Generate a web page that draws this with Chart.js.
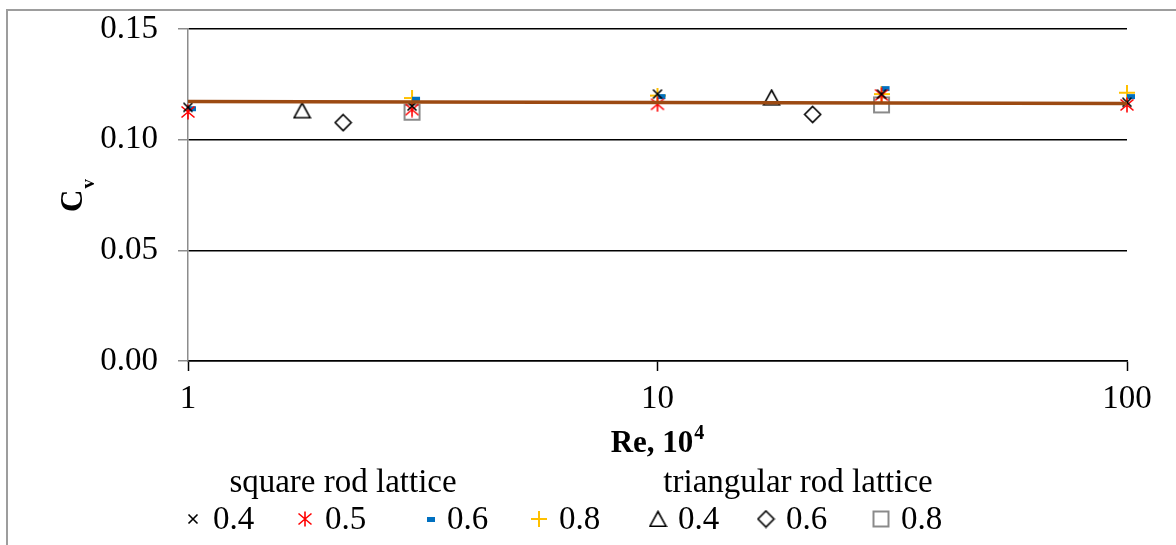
<!DOCTYPE html>
<html>
<head>
<meta charset="utf-8">
<script src="https://cdn.jsdelivr.net/npm/chart.js@4/dist/chart.umd.min.js"></script>
<style>
html,body{margin:0;padding:0;background:#fff;overflow:hidden;}
canvas{display:block;}
</style>
</head>
<body>
<canvas id="c" width="1176" height="545"></canvas>
<script>
// ---------- data ----------
const sqRe = [1, 3, 10, 30, 100];
const sq04 = [0.1146, 0.1152, 0.1206, 0.1206, 0.1169];
const sq05 = [0.1125, 0.1136, 0.1160, 0.1202, 0.1157];
const sq06 = [0.1142, 0.1185, 0.1197, 0.1233, 0.1197];
const sq08Re = [3, 10, 30, 100];
const sq08 = [0.1188, 0.1199, 0.1206, 0.1212];
const tri04Re = [1.75, 17.5];
const tri04 = [0.1132, 0.1190];
const tri06Re = [2.14, 21.4];
const tri06 = [0.1077, 0.1114];
const tri08Re = [3, 30];
const tri08 = [0.1124, 0.1157];
const trendRe = [1, 100];
const trend = [0.1172, 0.1163];
const xTicks = [1, 10, 100];
const yTicks = [0, 0.05, 0.10, 0.15];
const groupTitles = ['square rod lattice', 'triangular rod lattice'];
const seriesLabels = ['0.4', '0.5', '0.6', '0.8', '0.4', '0.6', '0.8'];

const FONT = "'Liberation Serif', 'Times New Roman', serif";

// ---------- marker sprites ----------
function sprite(w, h, fn) {
  const c = document.createElement('canvas');
  c.width = w; c.height = h;
  const g = c.getContext('2d');
  g.lineCap = 'butt';
  fn(g, w, h);
  return c;
}
const mkX = sprite(12, 12, g => {
  g.strokeStyle = '#000'; g.lineWidth = 1.6;
  g.beginPath(); g.moveTo(1.5, 1.5); g.lineTo(10.5, 10.5);
  g.moveTo(10.5, 1.5); g.lineTo(1.5, 10.5); g.stroke();
});
const mkAst = sprite(16, 16, g => {
  g.strokeStyle = '#ff0000'; g.lineWidth = 1.6;
  g.beginPath();
  g.moveTo(8, 0.5); g.lineTo(8, 15.5);
  g.moveTo(1.5, 2.5); g.lineTo(14.5, 13.5);
  g.moveTo(14.5, 2.5); g.lineTo(1.5, 13.5);
  g.stroke();
});
const mkDash = sprite(20, 10, g => {
  g.fillStyle = '#0070c0';
  g.fillRect(10, 3, 8, 5);
});
const mkPlus = sprite(16, 16, g => {
  g.strokeStyle = '#ffc000'; g.lineWidth = 2;
  g.beginPath(); g.moveTo(8, 0); g.lineTo(8, 16);
  g.moveTo(0, 8); g.lineTo(16, 8); g.stroke();
});
const mkTri = sprite(19, 18, g => {
  g.strokeStyle = '#000'; g.lineWidth = 1.6;
  g.beginPath(); g.moveTo(9.5, 1.5); g.lineTo(17.5, 16.2); g.lineTo(1.5, 16.2);
  g.closePath(); g.stroke();
});
const mkDia = sprite(19, 19, g => {
  g.strokeStyle = '#000'; g.lineWidth = 1.6;
  g.beginPath(); g.moveTo(9.5, 1.5); g.lineTo(17.5, 9.5); g.lineTo(9.5, 17.5); g.lineTo(1.5, 9.5);
  g.closePath(); g.stroke();
});
const mkSq = sprite(19, 19, g => {
  g.strokeStyle = '#8a8a8a'; g.lineWidth = 2;
  g.strokeRect(2, 2, 15, 15);
});
const markers = [mkX, mkAst, mkDash, mkPlus, mkTri, mkDia, mkSq];

function pts(xs, ys) { return xs.map((x, i) => ({ x: x, y: ys[i] })); }
function markerSet(label, xs, ys, img) {
  return {
    label: label, data: pts(xs, ys), pointStyle: img, pointRadius: 8,
    showLine: false, clip: false, order: 1,
    borderColor: 'rgba(0,0,0,0)', backgroundColor: 'rgba(0,0,0,0)'
  };
}

const datasets = [
  markerSet('square 0.4', sqRe, sq04, mkX),
  markerSet('square 0.5', sqRe, sq05, mkAst),
  markerSet('square 0.6', sqRe, sq06, mkDash),
  markerSet('square 0.8', sq08Re, sq08, mkPlus),
  markerSet('triangular 0.4', tri04Re, tri04, mkTri),
  markerSet('triangular 0.6', tri06Re, tri06, mkDia),
  markerSet('triangular 0.8', tri08Re, tri08, mkSq),
  {
    label: 'trend', data: pts(trendRe, trend), showLine: true, pointRadius: 0,
    borderColor: '#9c4a12', borderWidth: 3.5, clip: false, order: 0, tension: 0
  }
];

// ---------- custom drawing plugin ----------
const decor = {
  id: 'decor',
  beforeDraw(chart) {
    const ctx = chart.ctx;
    ctx.save();
    ctx.fillStyle = '#fff';
    ctx.fillRect(0, 0, chart.width, chart.height);
    ctx.strokeStyle = '#9d9d9d';
    ctx.lineWidth = 2;
    ctx.strokeRect(7, 10, chart.width + 10, chart.height + 10);
    ctx.restore();
  },
  afterDraw(chart) {
    const ctx = chart.ctx;
    const ca = chart.chartArea;
    ctx.save();
    ctx.fillStyle = '#000';
    // x title "Re, 10^4"
    const main = 'Re, 10', sup = '4';
    ctx.font = 'bold 31px ' + FONT;
    const w1 = ctx.measureText(main).width;
    ctx.font = 'bold 20px ' + FONT;
    const w2 = ctx.measureText(sup).width;
    const cx = (ca.left + ca.right) / 2;
    const x0 = cx - (w1 + w2 + 1) / 2;
    ctx.textBaseline = 'alphabetic';
    ctx.textAlign = 'left';
    ctx.font = 'bold 31px ' + FONT;
    ctx.fillText(main, x0, 452);
    ctx.font = 'bold 20px ' + FONT;
    ctx.fillText(sup, x0 + w1 + 1, 439);

    // y title "C_v"
    ctx.save();
    ctx.translate(82, 212);
    ctx.rotate(-Math.PI / 2);
    ctx.font = 'bold 31px ' + FONT;
    ctx.fillText('C', 0, 0);
    const cw = ctx.measureText('C').width;
    ctx.font = 'bold 19px ' + FONT;
    ctx.fillText('v', cw + 1, 12);
    ctx.restore();

    // legend
    ctx.font = '33px ' + FONT;
    ctx.textAlign = 'center';
    ctx.textBaseline = 'middle';
    ctx.fillText(groupTitles[0], 343, 483);
    ctx.fillText(groupTitles[1], 798, 483);
    const mx = [193, 305, 427, 539, 658, 766, 881];
    ctx.textAlign = 'left';
    for (let i = 0; i < markers.length; i++) {
      const m = markers[i];
      let x = mx[i] - m.width / 2;
      ctx.drawImage(m, x, 519 - m.height / 2);
      ctx.fillText(seriesLabels[i], mx[i] + 20, 520);
    }
    ctx.restore();
  }
};

new Chart(document.getElementById('c'), {
  type: 'scatter',
  data: { datasets: datasets },
  plugins: [decor],
  options: {
    responsive: false,
    animation: false,
    devicePixelRatio: 1,
    events: [],
    layout: { padding: { top: 29, right: 49, left: 0, bottom: 0 } },
    plugins: { legend: { display: false }, tooltip: { enabled: false }, title: { display: false } },
    scales: {
      x: {
        type: 'logarithmic', min: 1, max: 100,
        afterBuildTicks: s => { s.ticks = xTicks.map(v => ({ value: v, major: true })); },
        afterFit: s => { s.height = 184; s.paddingLeft = 0; s.paddingRight = 0; },
        ticks: {
          autoSkip: false, maxRotation: 0, padding: 9, color: '#000',
          font: { family: FONT, size: 33 },
          callback: v => String(v)
        },
        grid: { drawOnChartArea: false, drawTicks: true, tickLength: 10, tickColor: '#000', tickWidth: 1.5 },
        border: { display: true, color: '#000', width: 1.5 }
      },
      y: {
        min: 0, max: 0.15,
        afterBuildTicks: s => { s.ticks = yTicks.map(v => ({ value: v })); },
        afterFit: s => { s.width = 188; s.paddingTop = 0; s.paddingBottom = 0; },
        ticks: {
          padding: 20, color: '#000',
          font: { family: FONT, size: 33 },
          callback: v => Number(v).toFixed(2)
        },
        grid: { color: '#000', lineWidth: 1.5, drawTicks: true, tickLength: 10, tickColor: '#8c8c8c', tickWidth: 1.5 },
        border: { display: true, color: '#8c8c8c', width: 1.5 }
      }
    }
  }
});
</script>
</body>
</html>
